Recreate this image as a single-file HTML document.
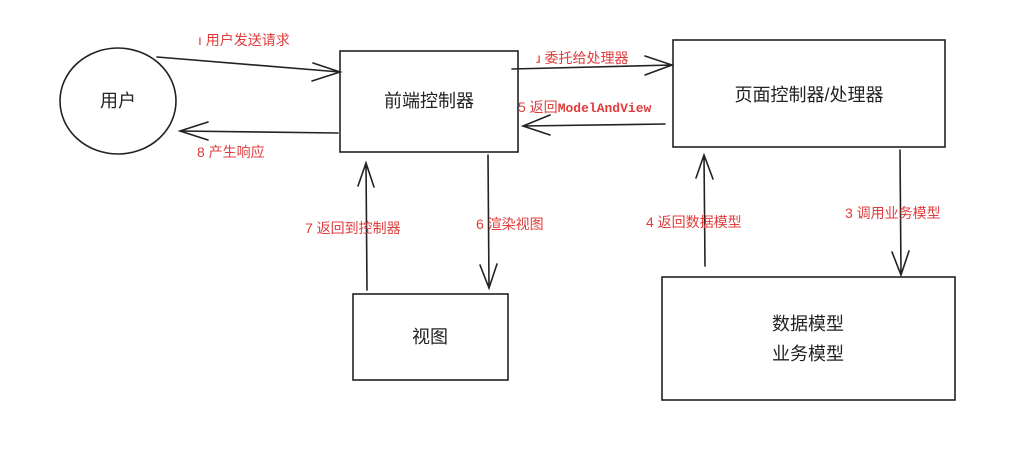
<!DOCTYPE html>
<html><head><meta charset="utf-8"><style>
body{margin:0;background:#fff;}
svg{display:block;}
.t{font-family:"Liberation Sans","Noto Sans CJK SC",sans-serif;fill:#222;font-size:18px;}
.r{font-family:"Liberation Sans","Noto Sans CJK SC",sans-serif;fill:#e03c3c;font-size:14px;}
.m{font-family:"Liberation Mono","Noto Sans CJK SC",monospace;font-weight:bold;}
</style></head><body>
<svg width="1024" height="456" viewBox="0 0 1024 456">
<g fill="none" stroke="#222" stroke-width="1.6" stroke-linecap="round">
<ellipse cx="118" cy="101" rx="58" ry="53"/>
<rect x="340" y="51" width="178" height="101"/>
<rect x="673" y="40" width="272" height="107"/>
<rect x="353" y="294" width="155" height="86"/>
<rect x="662" y="277" width="293" height="123"/>
<path d="M157 57 L340 72 M313 63 L340 72 L312 81"/>
<path d="M338 133 L180 131 M208 122 L180 131 L208 140"/>
<path d="M512 69 L672 65 M645 56 L672 65 L645 75"/>
<path d="M665 124 L523 126 M550 115 L523 126 L550 135"/>
<path d="M367 290 L366 163 M358 186 L366 163 L374 187"/>
<path d="M488 155 L489 288 M480 265 L489 288 L497 264"/>
<path d="M705 266 L704 155 M696 178 L704 155 L713 179"/>
<path d="M900 150 L901 275 M892 252 L901 275 L909 251"/>
</g>
<text class="t" x="118" y="107" text-anchor="middle">用户</text>
<text class="t" x="429" y="107" text-anchor="middle">前端控制器</text>
<text class="t" x="809" y="101" text-anchor="middle">页面控制器/处理器</text>
<text class="t" x="430" y="343" text-anchor="middle">视图</text>
<text class="t" x="808" y="330" text-anchor="middle">数据模型</text>
<text class="t" x="808" y="360" text-anchor="middle">业务模型</text>
<text class="r" x="198" y="45">ı 用户发送请求</text>
<text class="r" x="197" y="157">8  产生响应</text>
<text class="r" x="536" y="63">ɹ 委托给处理器</text>
<text class="r" x="518" y="112">5 返回<tspan class="m" font-size="13">ModelAndView</tspan></text>
<text class="r" x="305" y="233">7  返回到控制器</text>
<text class="r" x="476" y="229">6  渲染视图</text>
<text class="r" x="646" y="227">4 返回数据模型</text>
<text class="r" x="845" y="218">3 调用业务模型</text>
</svg>
</body></html>
